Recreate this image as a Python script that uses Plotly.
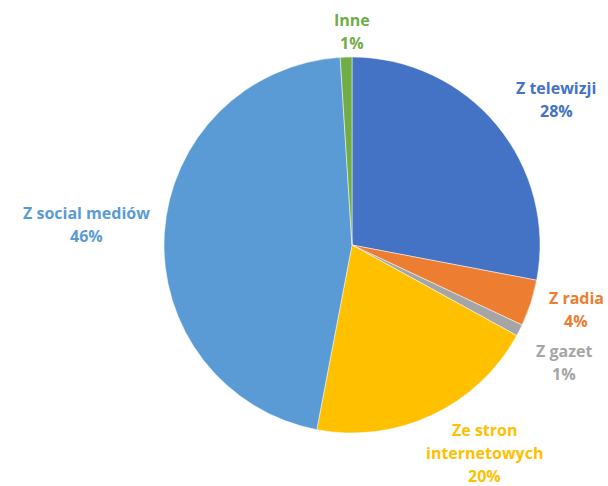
import plotly.graph_objects as go

labels = ["Z telewizji", "Z radia", "Z gazet", "Ze stron internetowych", "Z social mediów", "Inne"]
label_lines = [["Z telewizji"], ["Z radia"], ["Z gazet"], ["Ze stron", "internetowych"], ["Z social mediów"], ["Inne"]]
values = [28, 4, 1, 20, 46, 1]
colors = ["#4472C4", "#ED7D31", "#A5A5A5", "#FFC000", "#5B9BD5", "#70AD47"]
# label block top-line positions (pixels in the 608x486 canvas)
label_pos = [(556, 88), (576, 298), (564, 351), (484, 430), (87, 213), (352, 20)]
LINE_GAP = 23

W, H = 608, 486
cx, cy, r = 352, 245, 188

fig = go.Figure(go.Pie(
    labels=labels,
    values=values,
    sort=False,
    direction="clockwise",
    rotation=0,
    marker=dict(colors=colors, line=dict(color="white", width=0.5)),
    textinfo="none",
    hoverinfo="label+percent",
    domain=dict(x=[(cx - r) / W, (cx + r) / W], y=[(H - cy - r) / H, (H - cy + r) / H]),
))

total = sum(values)
for lines, v, col, (px, py) in zip(label_lines, values, colors, label_pos):
    pct = round(100 * v / total)
    for i, t in enumerate(lines + [f"{pct}%"]):
        fig.add_annotation(
            x=px / W, y=1 - (py + i * LINE_GAP) / H, xref="paper", yref="paper",
            text=f"<b>{t}</b>",
            showarrow=False, align="center",
            font=dict(family="Open Sans", size=16, color=col),
            xanchor="center", yanchor="middle",
        )

fig.update_layout(
    width=W, height=H,
    margin=dict(l=0, r=0, t=0, b=0),
    paper_bgcolor="white",
    plot_bgcolor="white",
    showlegend=False,
)

fig.write_html(
    "out.html",
    config={"displayModeBar": False},
    post_script="document.body.style.margin='0';document.body.style.padding='0';",
)
